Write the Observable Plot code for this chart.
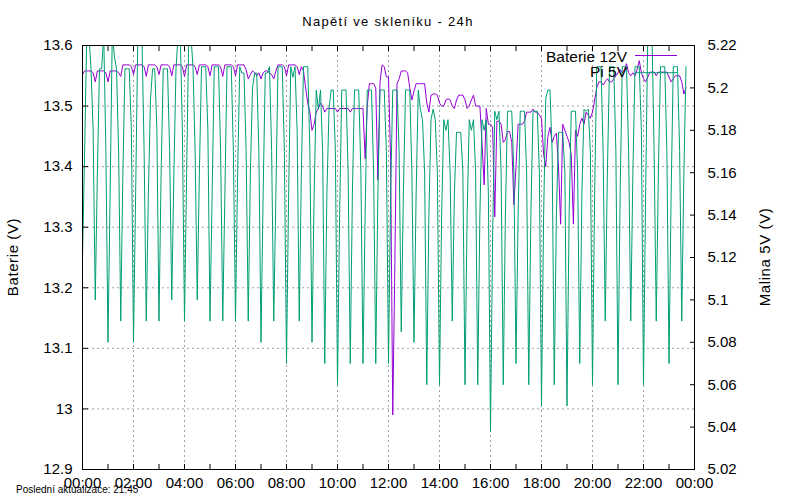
<!DOCTYPE html>
<html><head><meta charset="utf-8">
<script src="https://cdn.jsdelivr.net/npm/d3@7"></script>
<script src="https://cdn.jsdelivr.net/npm/@observablehq/plot@0.6"></script>
<style>
html,body{margin:0;padding:0;background:#fff;}
#wrap{position:relative;width:800px;height:500px;background:#fff;}
#wrap svg{position:absolute;left:0;top:0;}
</style></head><body><div id="wrap"></div>
<script>
// sampling: one reading every 5 minutes starting 00:00
const stepMinutes = 5;

// Baterie 12V (left axis, V)
const batterie12V = [
13.552,13.558,13.558,13.558,13.558,13.555,13.540,13.558,13.558,13.558,13.558,13.555,
13.540,13.558,13.558,13.558,13.558,13.555,13.549,13.568,13.568,13.568,13.568,13.565,
13.552,13.568,13.568,13.568,13.568,13.565,13.549,13.568,13.568,13.568,13.568,13.565,
13.552,13.568,13.568,13.568,13.568,13.565,13.550,13.568,13.568,13.568,13.568,13.565,
13.549,13.568,13.568,13.568,13.568,13.565,13.552,13.568,13.568,13.568,13.568,13.565,
13.550,13.568,13.568,13.568,13.568,13.565,13.549,13.568,13.568,13.568,13.568,13.565,
13.550,13.568,13.568,13.568,13.568,13.560,13.545,13.552,13.558,13.555,13.550,13.555,
13.545,13.555,13.558,13.558,13.555,13.552,13.545,13.558,13.568,13.568,13.568,13.565,
13.550,13.568,13.568,13.568,13.568,13.565,13.552,13.565,13.558,13.530,13.505,13.490,
13.460,13.470,13.490,13.496,13.505,13.500,13.490,13.496,13.496,13.496,13.496,13.496,
13.490,13.496,13.496,13.496,13.496,13.496,13.490,13.496,13.496,13.496,13.496,13.496,
13.496,13.413,13.500,13.537,13.537,13.537,13.530,13.378,13.540,13.568,13.565,13.548,
13.548,13.410,12.990,13.240,13.537,13.545,13.558,13.558,13.558,13.555,13.530,13.510,
13.525,13.537,13.537,13.537,13.537,13.537,13.505,13.490,13.518,13.520,13.520,13.518,
13.505,13.500,13.500,13.510,13.512,13.510,13.500,13.496,13.510,13.518,13.518,13.518,
13.510,13.496,13.500,13.510,13.518,13.500,13.500,13.500,13.440,13.370,13.496,13.470,
13.470,13.465,13.317,13.475,13.475,13.470,13.440,13.445,13.458,13.458,13.440,13.337,
13.400,13.470,13.470,13.470,13.475,13.490,13.490,13.490,13.495,13.490,13.490,13.485,
13.480,13.420,13.400,13.450,13.465,13.440,13.450,13.455,13.400,13.305,13.470,13.460,
13.450,13.440,13.420,13.305,13.460,13.450,13.470,13.480,13.470,13.490,13.485,13.480,
13.490,13.510,13.530,13.540,13.540,13.535,13.540,13.545,13.540,13.540,13.545,13.550,
13.555,13.560,13.555,13.560,13.570,13.555,13.550,13.555,13.550,13.560,13.575,13.555,
13.545,13.540,13.548,13.556,13.556,13.556,13.550,13.556,13.556,13.556,13.556,13.556,
13.548,13.540,13.545,13.550,13.550,13.550,13.540,13.520,13.530
];

// Pi 5V (right axis, V)
const pi5V = [
5.120,5.170,5.225,5.225,5.209,5.180,5.100,5.160,5.209,5.209,5.225,5.170,
5.080,5.150,5.225,5.215,5.209,5.170,5.090,5.160,5.209,5.209,5.209,5.180,
5.080,5.150,5.222,5.222,5.222,5.170,5.090,5.150,5.195,5.209,5.209,5.180,
5.090,5.160,5.209,5.209,5.209,5.170,5.100,5.160,5.209,5.225,5.225,5.180,
5.090,5.160,5.225,5.225,5.210,5.170,5.100,5.160,5.210,5.210,5.210,5.180,
5.090,5.150,5.210,5.210,5.210,5.170,5.090,5.150,5.210,5.210,5.210,5.170,
5.090,5.160,5.210,5.207,5.207,5.170,5.090,5.160,5.200,5.207,5.207,5.170,
5.080,5.150,5.207,5.207,5.210,5.170,5.090,5.150,5.210,5.210,5.210,5.170,
5.070,5.150,5.210,5.205,5.210,5.180,5.090,5.160,5.210,5.210,5.210,5.170,
5.080,5.150,5.199,5.190,5.199,5.170,5.070,5.150,5.190,5.199,5.199,5.170,
5.060,5.140,5.199,5.199,5.199,5.160,5.070,5.150,5.199,5.199,5.199,5.160,
5.070,5.140,5.199,5.199,5.199,5.160,5.070,5.150,5.199,5.199,5.199,5.170,
5.070,5.150,5.199,5.199,5.199,5.170,5.085,5.150,5.199,5.199,5.199,5.160,
5.080,5.150,5.199,5.190,5.185,5.160,5.060,5.140,5.185,5.190,5.185,5.160,
5.060,5.140,5.185,5.180,5.185,5.160,5.090,5.150,5.179,5.179,5.179,5.160,
5.060,5.140,5.185,5.180,5.185,5.160,5.060,5.140,5.185,5.180,5.185,5.150,
5.038,5.130,5.189,5.185,5.189,5.160,5.060,5.140,5.189,5.189,5.189,5.160,
5.070,5.140,5.189,5.189,5.189,5.160,5.060,5.140,5.189,5.189,5.189,5.160,
5.050,5.140,5.195,5.199,5.199,5.170,5.060,5.140,5.179,5.179,5.179,5.160,
5.050,5.140,5.189,5.189,5.189,5.160,5.070,5.150,5.190,5.189,5.190,5.170,
5.060,5.150,5.210,5.210,5.210,5.170,5.090,5.160,5.210,5.210,5.210,5.170,
5.060,5.150,5.210,5.210,5.210,5.170,5.090,5.160,5.210,5.210,5.210,5.180,
5.060,5.150,5.225,5.225,5.225,5.170,5.090,5.160,5.210,5.210,5.210,5.170,
5.070,5.150,5.210,5.210,5.210,5.170,5.090,5.160,5.210
];

// axes / ticks
const xLabelHours = [0,2,4,6,8,10,12,14,16,18,20,22,24];
const xGridHours = [2,4,6,8,10,12,14,16,18,20,22];
const xMinorHours = [1,3,5,7,9,11,13,15,17,19,21,23];
const leftTicks = [12.9,13.0,13.1,13.2,13.3,13.4,13.5,13.6];
const leftGrid = [13.0,13.1,13.2,13.3,13.4,13.5];
const rightTicks = [5.02,5.04,5.06,5.08,5.10,5.12,5.14,5.16,5.18,5.20,5.22];
const leftDomain = [12.9, 13.6];
const rightDomain = [5.02, 5.22];

const titleText = "Napětí ve skleníku - 24h";
const leftLabel = "Baterie (V)";
const rightLabel = "Malina 5V (V)";
const seriesNames = ["Baterie 12V", "Pi 5V"];
const seriesColors = ["#9400d3", "#009e73"];
const footerText = "Poslední aktualizace: 21:45";

// map right-axis values into the left scale
const k = (leftDomain[1]-leftDomain[0])/(rightDomain[1]-rightDomain[0]);
const toLeft = v => leftDomain[0] + (v - rightDomain[0]) * k;
const fromLeft = v => rightDomain[0] + (v - leftDomain[0]) / k;
const fmt = v => String(+(+v).toFixed(2));
const pad = n => String(n).padStart(2, "0");

const rowsB = batterie12V.map((v, i) => ({h: i*stepMinutes/60, v}));
const rowsP = pi5V.map((v, i) => ({h: i*stepMinutes/60, v: toLeft(v)}));

const chart = Plot.plot({
  width: 800, height: 500,
  marginLeft: 82, marginRight: 106, marginTop: 45, marginBottom: 31,
  style: {fontSize: "15px", fontFamily: "'Liberation Sans', Arial, sans-serif", color: "#000", background: "transparent", overflow: "visible"},
  x: {domain: [0, 24]},
  y: {domain: leftDomain},
  marks: [
    Plot.ruleX(xGridHours, {stroke: "#a0a0a0", strokeWidth: 1, strokeDasharray: "2,3"}),
    Plot.ruleY(leftGrid, {stroke: "#a0a0a0", strokeWidth: 1, strokeDasharray: "2,3"}),
    Plot.line(rowsB, {x: "h", y: "v", stroke: seriesColors[0], strokeWidth: 1, clip: true}),
    Plot.line(rowsP, {x: "h", y: "v", stroke: seriesColors[1], strokeWidth: 1, clip: true}),
    Plot.frame({stroke: "#000", strokeWidth: 1}),
    Plot.axisY({anchor: "left", ticks: leftTicks, tickSize: -6, tickPadding: 16, tickFormat: fmt, label: null}),
    Plot.axisY({anchor: "right", ticks: rightTicks.map(toLeft), tickSize: -5, tickPadding: 18, tickFormat: v => fmt(fromLeft(v)), label: null}),
    Plot.axisX({anchor: "bottom", ticks: xLabelHours, tickSize: -5, tickPadding: 13, tickFormat: h => pad(h % 24) + ":00", label: null}),
    Plot.axisX({anchor: "bottom", ticks: xMinorHours, tickSize: -5, tickPadding: 13, tickFormat: () => "", label: null}),
    Plot.axisX({anchor: "top", ticks: xLabelHours.concat(xMinorHours), tickSize: -5, tickFormat: () => "", label: null})
  ]
});
const wrap = document.getElementById("wrap");
wrap.appendChild(chart);

// annotation layer: title, axis titles, legend, footer
const ov = d3.create("svg").attr("width", 800).attr("height", 500)
  .style("font-family", "'Liberation Sans', Arial, sans-serif").style("pointer-events", "none");
ov.append("text").attr("x", 388).attr("y", 26).attr("text-anchor", "middle")
  .style("font-size", "13px").style("letter-spacing", "1.3px").attr("fill", "#000").text(titleText);
ov.append("text").attr("transform", "translate(18,257) rotate(-90)").attr("text-anchor", "middle")
  .style("font-size", "15px").style("letter-spacing", "0.6px").attr("fill", "#000").text(leftLabel);
ov.append("text").attr("transform", "translate(770,257) rotate(-90)").attr("text-anchor", "middle")
  .style("font-size", "15px").style("letter-spacing", "0.6px").attr("fill", "#000").text(rightLabel);
const legendY = [[61.5, 55.5], [77, 72.7]];
seriesNames.forEach((name, i) => {
  ov.append("text").attr("x", 627).attr("y", legendY[i][0]).attr("text-anchor", "end")
    .style("font-size", "15.5px").attr("fill", "#000").text(name);
  ov.append("line").attr("x1", 635).attr("x2", 677).attr("y1", legendY[i][1]).attr("y2", legendY[i][1])
    .attr("stroke", seriesColors[i]).attr("stroke-width", 1);
});
ov.append("text").attr("x", 16).attr("y", 492.5).style("font-size", "10px").attr("fill", "#000").text(footerText);
wrap.appendChild(ov.node());
</script>
</body></html>
